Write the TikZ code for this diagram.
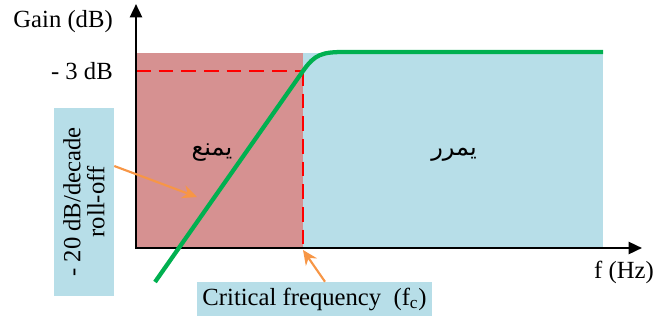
\documentclass[tikz,border=0pt]{standalone}
\usepackage{fontspec}
\setmainfont{Liberation Serif}
\newfontfamily\arabicfont[Script=Arabic]{DejaVu Sans}
\TeXXeTstate=1
\usetikzlibrary{arrows.meta}
\definecolor{stopred}{RGB}{214,145,145}
\definecolor{passblue}{RGB}{183,222,232}
\definecolor{curvegreen}{RGB}{0,176,80}
\definecolor{arroworange}{RGB}{247,150,70}
\tikzset{
  lbl/.style={font=\fontsize{18.5}{21}\selectfont, inner sep=0pt},
  arlbl/.style={font=\arabicfont\fontsize{18}{20}\selectfont, inner sep=0pt},
  axis/.style={line width=1.8pt, -{Triangle[length=10pt,width=9pt]}},
  note/.style={fill=passblue, inner sep=2pt, font=\fontsize{18.5}{21}\selectfont},
  pointer/.style={draw=arroworange, line width=1.6pt, -{Stealth[length=11pt,width=10pt]}},
  guide/.style={draw=red, line width=2pt, dash pattern=on 11pt off 6pt},
  response/.style={draw=curvegreen, line width=3.2pt}
}
\begin{document}
\begin{tikzpicture}[x=0.75pt,y=-0.75pt]
\useasboundingbox (0,0) rectangle (656,320);
% regions
\fill[stopred] (136,53) rectangle (303,248);
\fill[passblue] (303,53) rectangle (603,248);
% guide lines
\coordinate (origin) at (136,248);
\coordinate (m3left) at (136,71);
\coordinate (fcpt) at (303,71);
\coordinate (fcbase) at (303,248);
\draw[guide] (m3left) -- (fcpt);
\draw[guide] (fcpt) -- (fcbase);
% axes
\coordinate (ytip) at (136,4);
\coordinate (xtip) at (642,248);
\draw[axis] (136,249) -- (ytip);
\draw[axis] (135,248) -- (xtip);
% response curve
\coordinate (cstart) at (155,282);
\coordinate (cflat) at (345,52);
\coordinate (cend) at (603,52);
\draw[response] (cstart) -- (fcpt) .. controls (315,54) and (322,52) .. (cflat) -- (cend);
% labels
\node[lbl, anchor=east] (gain) at (113,22) {Gain (dB)};
\node[lbl, anchor=east] (m3) at (113,71) {- 3 dB};
\node[lbl] (fhz) at (624,272) {f (Hz)};
\node[arlbl] (stop) at (212,153) {\beginR يمنع\endR};
\node[arlbl] (pass) at (454,155) {\beginR يمرر\endR};
% notes
\node[note, rotate=90, align=center, minimum width=141pt, minimum height=45pt, inner sep=0pt] (slope) at (84,202)
  {- 20 dB/decade\\[-3pt]roll-off};
\node[note, minimum width=176pt, minimum height=25.5pt, inner sep=0pt] (crit) at (314.5,299)
  {Critical frequency\ \ (f\textsubscript{c})};
% pointers
\coordinate (slopetip) at (197,197);
\coordinate (crittip) at (303,250);
\draw[pointer] (slope.south |- 0,166) -- (slopetip);
\draw[pointer] (crit.north -| 325,0) -- (crittip);
\end{tikzpicture}
\end{document}
